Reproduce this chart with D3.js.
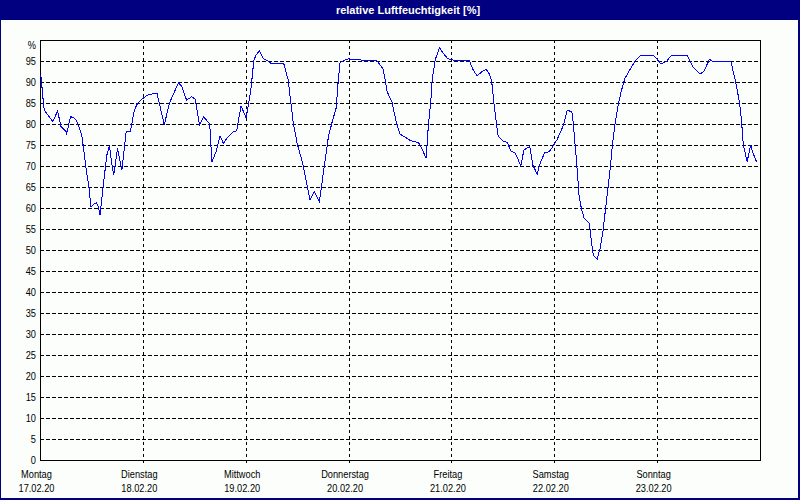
<!DOCTYPE html>
<html><head><meta charset="utf-8">
<script src="https://cdn.jsdelivr.net/npm/d3@7/dist/d3.min.js"></script>
<style>
html,body{margin:0;padding:0;background:#fff;}
svg{display:block;}
text{font-family:"Liberation Sans",Arial,sans-serif;}
</style></head>
<body><svg id="c" width="800" height="500"></svg>
<script>
const title = "relative Luftfeuchtigkeit [%]";
const dayNames = ["Montag","Dienstag","Mittwoch","Donnerstag","Freitag","Samstag","Sonntag"];
const dayDates = ["17.02.20","18.02.20","19.02.20","20.02.20","21.02.20","22.02.20","23.02.20"];
const yTicks = [0,5,10,15,20,25,30,35,40,45,50,55,60,65,70,75,80,85,90,95,100];
// hours since Monday 17.02.20 00:00
const hours = [0.2,0.8,1.0,3.0,4.1,4.9,6.1,6.2,7.1,7.8,8.4,9.2,9.8,10.7,11.4,11.9,12.3,13.2,13.6,14.0,
 15.0,15.6,16.2,16.8,17.2,18.1,19.1,20.1,21.1,22.0,22.8,24.0,25.1,26.7,27.3,29.0,30.2,32.3,33.1,34.2,
 35.4,36.2,37.2,38.2,39.1,39.6,40.1,41.1,42.0,42.8,43.9,45.0,45.9,46.9,48.1,49.2,49.9,50.4,51.2,52.1,
 53.0,54.1,56.9,57.9,59.1,60.0,61.3,62.2,63.0,64.0,65.2,66.3,67.3,68.1,69.1,69.6,70.0,70.8,71.9,75.4,
 78.6,80.1,81.0,82.1,83.2,84.0,85.2,86.2,87.1,88.3,89.1,90.1,90.6,91.2,91.5,92.2,93.2,94.1,95.1,96.4,
 100.2,101.0,102.0,103.1,104.1,104.8,105.4,106.0,106.9,108.0,109.0,109.9,110.8,111.2,112.2,112.9,113.9,114.3,115.0,116.0,
 116.8,117.8,118.8,119.4,120.6,122.1,123.0,124.1,124.4,125.2,125.8,126.4,127.0,128.2,128.7,129.1,130.0,130.7,131.4,132.2,
 133.0,133.6,134.2,134.9,135.7,136.5,137.7,138.8,140.0,143.3,144.9,146.2,147.2,151.1,152.4,154.0,154.9,156.2,157.0,161.2,
 162.2,163.2,163.7,164.1,165.0,165.8,166.4,167.2];
const humidity = [91.7,85.0,83.3,80.6,83.1,79.4,78.2,77.5,81.7,81.6,81.0,79.0,77.0,69.8,65.0,60.3,60.7,61.3,60.3,58.3,
 67.5,72.6,74.8,70.2,67.9,74.2,69.0,78.2,78.2,83.3,85.0,86.1,86.9,87.3,87.3,79.8,85.0,89.8,88.9,85.7,
 86.5,85.9,79.8,81.7,80.6,80.0,71.0,73.4,77.1,75.4,77.0,78.1,78.4,84.3,81.5,88.1,95.2,96.4,97.4,95.6,
 95.1,94.3,94.3,90.5,80.2,75.4,70.6,65.9,62.0,63.9,61.5,69.8,77.0,80.2,83.8,90.5,94.6,95.1,95.5,95.2,
 95.1,93.0,87.7,85.3,80.2,77.6,76.9,76.2,75.8,75.6,74.2,71.8,79.4,85.7,90.5,95.2,98.2,96.8,95.6,95.2,
 95.1,93.0,91.4,92.5,93.0,92.0,90.1,84.1,77.1,76.0,75.6,73.6,73.1,72.4,70.0,73.8,74.4,74.6,70.2,68.1,
 71.0,73.2,73.4,74.2,76.2,79.6,83.3,82.9,80.5,71.0,62.7,59.5,57.5,56.4,51.6,48.8,47.8,50.4,54.8,61.9,
 69.0,75.4,80.2,84.5,88.1,90.9,93.0,94.9,96.2,96.2,94.3,94.9,96.2,96.2,93.6,91.9,92.5,95.4,94.9,94.9,
 90.5,85.3,80.6,75.1,71.0,75.0,73.0,71.0];

const svg = d3.select("#c");
const W = 800, H = 500;
const m = {l:40, r:760, t:40, b:460};
// background & window frame
svg.append("rect").attr("x",0).attr("y",0).attr("width",W).attr("height",H).attr("fill","#000080");
svg.append("rect").attr("x",1).attr("y",20).attr("width",W-3).attr("height",H-22).attr("fill","#fbfefb");
svg.append("text").attr("x",408).attr("y",13.5).attr("text-anchor","middle")
  .attr("fill","#fff").attr("font-weight","bold").attr("font-size","11px").text(title);

const x = d3.scaleLinear().domain([0,168]).range([m.l,m.r]);
const y = d3.scaleLinear().domain([0,100]).range([m.b,m.t]);

const g = svg.append("g").attr("shape-rendering","crispEdges");
// horizontal gridlines
g.selectAll("line.h").data(yTicks.filter(v=>v>0 && v<100)).enter().append("line")
  .attr("x1",m.l).attr("x2",m.r).attr("y1",d=>y(d)+0.5).attr("y2",d=>y(d)+0.5)
  .attr("stroke","#000").attr("stroke-dasharray","4,2");
// vertical day lines
g.selectAll("line.v").data(d3.range(1,7)).enter().append("line")
  .attr("x1",d=>Math.round(x(d*24))+0.5).attr("x2",d=>Math.round(x(d*24))+0.5)
  .attr("y1",m.t).attr("y2",m.b+4)
  .attr("stroke","#000").attr("stroke-dasharray","3,3");
// frame
g.append("rect").attr("x",m.l+0.5).attr("y",m.t+0.5).attr("width",m.r-m.l).attr("height",m.b-m.t)
  .attr("fill","none").attr("stroke","#000");
// y tick labels
const yl = svg.selectAll("text.y").data(yTicks).enter().append("text").attr("class","narrow")
  .attr("x",36).attr("y",d=>d===100? y(d)+8.5 : y(d)+4)
  .attr("text-anchor","end").attr("font-size","11px").attr("fill","#000")
  .text(d=>d===100?"%":d);
// x labels
const xl = svg.selectAll("g.xl").data(dayNames).enter().append("g");
xl.append("text").attr("class","narrow").attr("x",(d,i)=>x(i*24)-3.5).attr("y",477.5).attr("text-anchor","middle")
  .attr("font-size","11px").text(d=>d);
xl.append("text").attr("class","narrow").attr("x",(d,i)=>x(i*24)-3.5).attr("y",492).attr("text-anchor","middle")
  .attr("font-size","11px").text((d,i)=>dayDates[i]);
// narrow the label glyphs to match the bitmap font width
svg.selectAll("text.narrow").each(function(){
  const w = this.getComputedTextLength();
  d3.select(this).attr("textLength", w*0.84).attr("lengthAdjust","spacingAndGlyphs");
});
// data line
const line = d3.line().x((d,i)=>x(hours[i])).y(d=>y(d));
svg.append("path").datum(humidity).attr("d",line).attr("fill","none")
  .attr("stroke","#0000ff").attr("stroke-width",1).attr("shape-rendering","crispEdges");
</script></body></html>
